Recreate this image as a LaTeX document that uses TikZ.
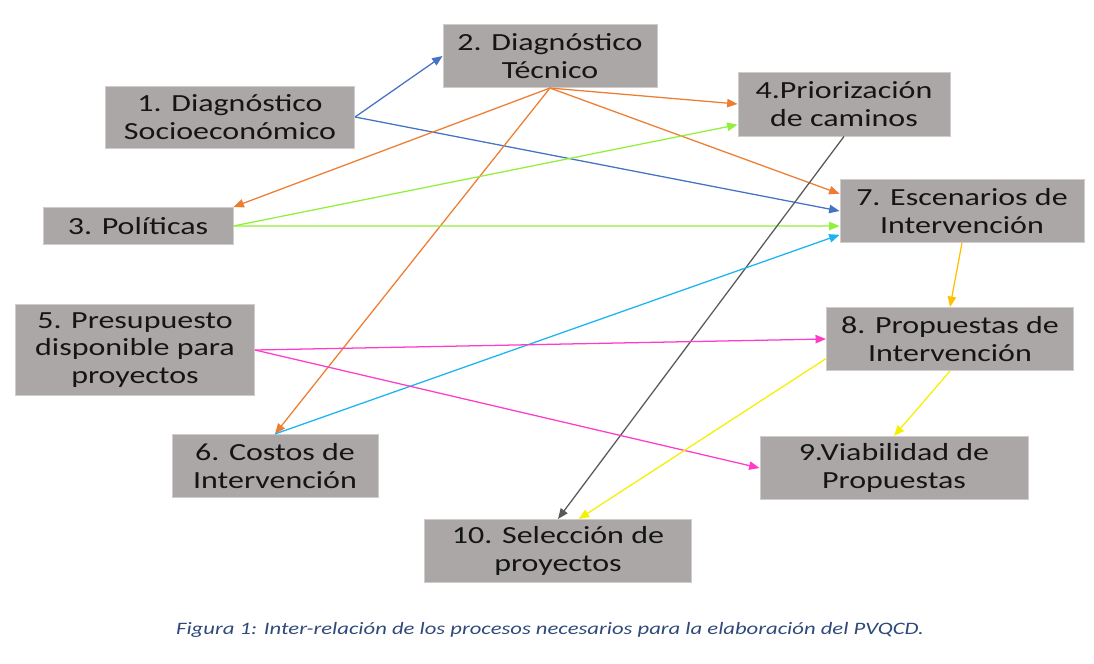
\documentclass[tikz,border=0pt]{standalone}
\usepackage{fontspec}
\newfontfamily\boxfont{Carlito}[FakeStretch=1.3]
\usetikzlibrary{arrows.meta}
\definecolor{boxgray}{HTML}{ABA7A6}
\definecolor{boxedge}{HTML}{CFCCCB}
\definecolor{ink}{HTML}{151515}
\definecolor{capblue}{HTML}{2F4A7A}
\definecolor{lnblue}{HTML}{4472C4}
\definecolor{lnorange}{HTML}{ED7D31}
\definecolor{lngreen}{HTML}{92F03A}
\definecolor{lngray}{HTML}{595959}
\definecolor{lncyan}{HTML}{1CB4F0}
\definecolor{lnpink}{HTML}{FF3CC8}
\definecolor{lngold}{HTML}{FFC000}
\definecolor{lnyellow}{HTML}{F5F000}
\tikzset{
  procbox/.style={draw=boxedge,fill=boxgray,line width=0.6pt,
                  align=center,inner sep=2pt,text=ink,
                  font=\boxfont\fontsize{17.5}{19.5}\selectfont},
  linkarr/.style={-{Triangle[length=2.6mm,width=2.1mm]},line width=0.9pt}
}
\begin{document}
\begin{tikzpicture}[x=0.025cm,y=-0.025cm]
  \useasboundingbox (0,0) rectangle (1094,664);
  \node[procbox,minimum width=6.23cm,minimum height=1.55cm] (socio) at (230,117) {1. Diagnóstico\\Socioeconómico};
  \node[procbox,minimum width=5.35cm,minimum height=1.58cm] (tecnico) at (550,56) {2. Diagnóstico\\Técnico};
  \node[procbox,minimum width=4.75cm,minimum height=0.93cm] (politicas) at (138,226) {3. Políticas};
  \node[procbox,minimum width=5.3cm,minimum height=1.6cm] (prior) at (844,104) {4.Priorización\\de caminos};
  \node[procbox,minimum width=5.98cm,minimum height=2.28cm] (presup) at (135,350) {5. Presupuesto\\disponible para\\proyectos};
  \node[procbox,minimum width=5.15cm,minimum height=1.58cm] (costos) at (275,466) {6. Costos de\\Intervención};
  \node[procbox,minimum width=6.1cm,minimum height=1.58cm] (escen) at (962,211) {7. Escenarios de\\Intervención};
  \node[procbox,minimum width=6.18cm,minimum height=1.58cm] (propu) at (950,339) {8. Propuestas de\\Intervención};
  \node[procbox,minimum width=6.7cm,minimum height=1.58cm] (viab) at (894,468) {9.Viabilidad de\\Propuestas};
  \node[procbox,minimum width=6.68cm,minimum height=1.58cm] (selec) at (558,551) {10. Selección de\\proyectos};
  \node[font=\boxfont\itshape\fontsize{12.4}{15}\selectfont,text=capblue] (caption) at (550,630)
    {Figura 1: Inter-relación de los procesos necesarios para la elaboración del PVQCD.};
  % socioeconomico
  \draw[linkarr,lnblue] (socio.east) -- (tecnico.west);
  \draw[linkarr,lnblue] (socio.east) -- (escen.west);
  % tecnico
  \draw[linkarr,lnorange] (tecnico.south) -- (prior.west);
  \draw[linkarr,lnorange] (tecnico.south) -- (politicas.north east);
  \draw[linkarr,lnorange] (tecnico.south) -- (escen.172);
  \draw[linkarr,lnorange] (tecnico.south) -- (costos.north);
  % politicas
  \draw[linkarr,lngreen] (politicas.east) -- (prior.191);
  \draw[linkarr,lngreen] (politicas.east) -- (escen.187);
  % resto
  \draw[linkarr,lngray] (prior.south) -- (selec.north);
  \draw[linkarr,lncyan] (costos.north) -- (escen.191);
  \draw[linkarr,lnpink] (presup.east) -- (propu.west);
  \draw[linkarr,lnpink] (presup.east) -- (viab.west);
  \draw[linkarr,lngold] (escen.south) -- (propu.north);
  \draw[linkarr,lnyellow] (propu.south) -- (viab.north);
  \draw[linkarr,lnyellow] (propu.189) -- (selec.57);
\end{tikzpicture}
\end{document}
